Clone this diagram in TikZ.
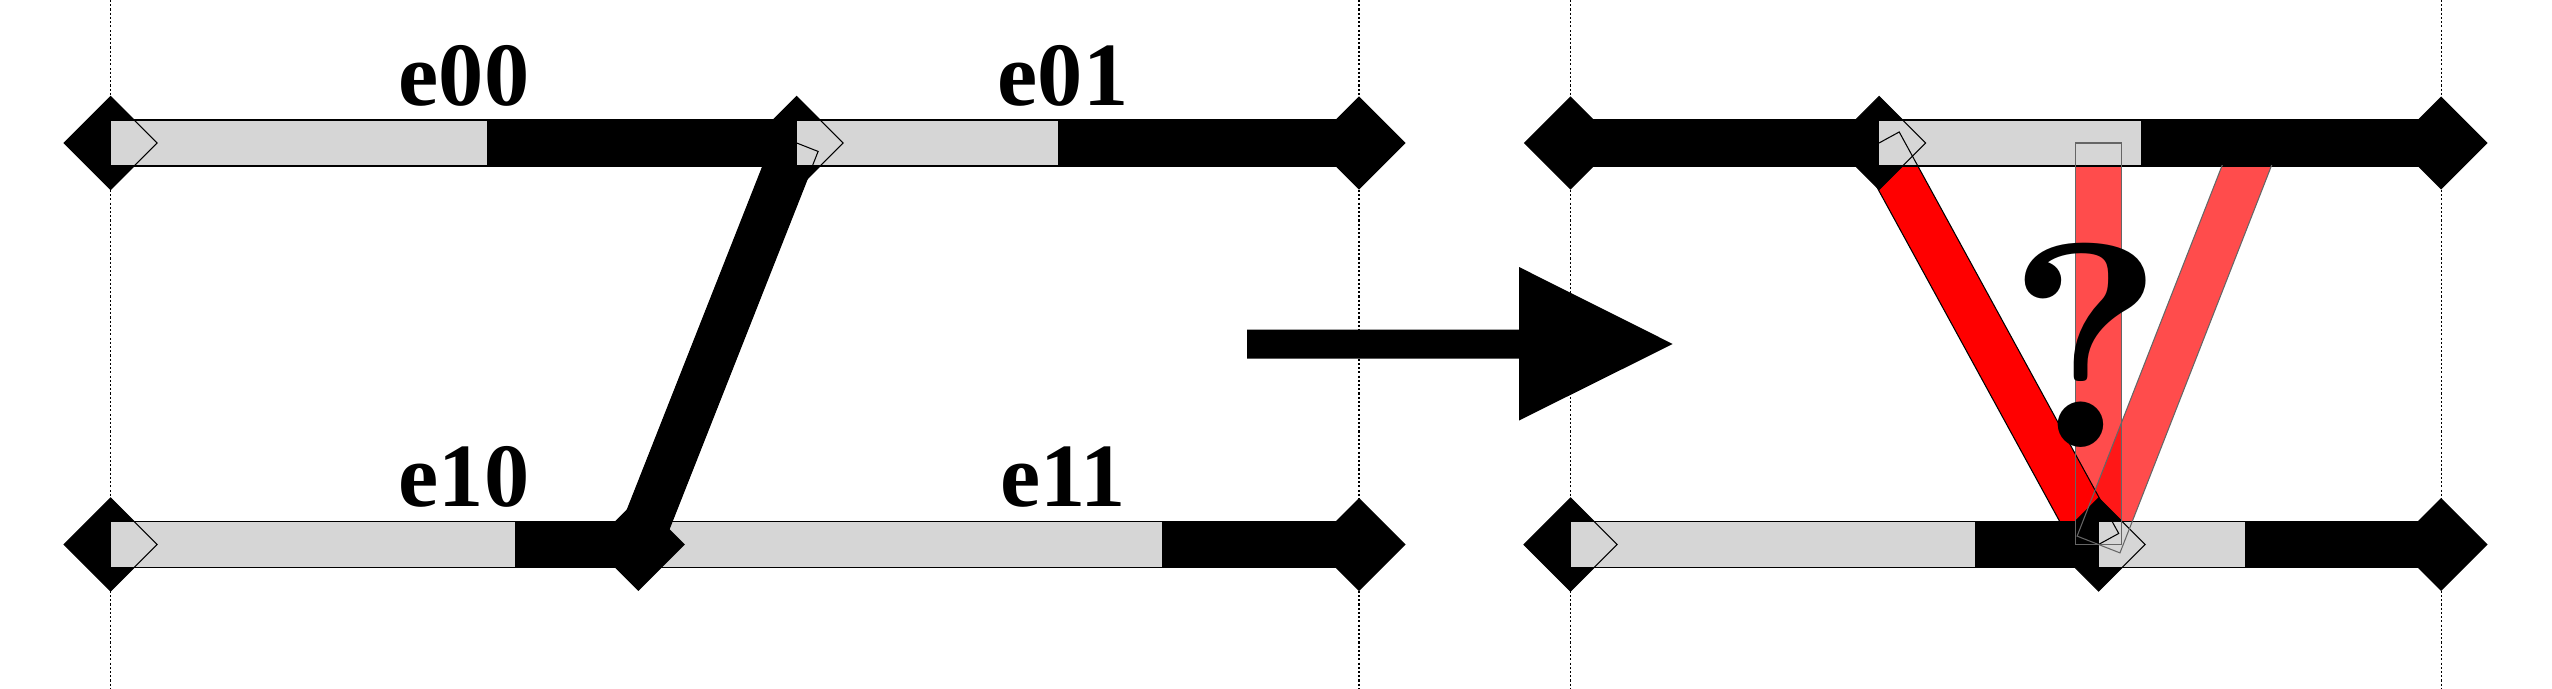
\documentclass[tikz,border=0pt]{standalone}
\usepackage{fontspec}
\setmainfont{Liberation Serif}
\newfontfamily\lmbf{lmroman10-bold.otf}
\usetikzlibrary{shapes.geometric,calc}
\definecolor{lgray}{RGB}{214,214,214}
\begin{document}
\begin{tikzpicture}[x=0.01cm,y=-0.01cm,
  dmd/.style={diamond, aspect=1, minimum width=0.93cm, minimum height=0.93cm, inner sep=0pt, outer sep=0pt},
  dmdfill/.style={dmd, fill=black},
  dmdline/.style={dmd, draw=black, line width=0.3pt},
  trk/.style={draw=black, line width=0.3pt},
  tline/.style={draw=black!60, line width=0.3pt},
  pink/.style={fill=red, fill opacity=0.7},
  lbl/.style={font=\fontsize{25.7}{30}\selectfont\bfseries, anchor=base, inner sep=0pt},
  guide/.style={line width=0.3pt, dash pattern=on 0.6pt off 0.6pt}]
\useasboundingbox (0,0) rectangle (2552,688);

% dotted guides
\foreach \gx/\gn in {110.7/ga,1359/gb,1570.5/gc,2441/gd}{
  \coordinate (\gn t) at (\gx,0);
  \coordinate (\gn b) at (\gx,688);
  \draw[guide] (\gn t) -- (\gn b);
}

% ---------------- left diagram ----------------
\coordinate (lta) at (110.7,143);
\coordinate (ltm) at (796.7,143);
\coordinate (ltb) at (1359,143);
\coordinate (lba) at (110.7,544.5);
\coordinate (lbm) at (638.3,544.5);
\coordinate (lbb) at (1359,544.5);

\coordinate (s1) at ($(ltm)!0.23cm!90:(lbm)$);
\coordinate (s2) at ($(lbm)!0.23cm!-90:(ltm)$);
\coordinate (s3) at ($(lbm)!0.23cm!90:(ltm)$);
\coordinate (s4) at ($(ltm)!0.23cm!-90:(lbm)$);
\fill (s1) -- (s2) -- (s3) -- (s4) -- cycle;

\node[dmdfill] (dla) at (lta) {};
\node[dmdfill] (dlm) at (ltm) {};
\node[dmdfill] (dlb) at (ltb) {};
\node[dmdfill] (dlc) at (lba) {};
\node[dmdfill] (dld) at (lbb) {};

% top track
\fill[lgray] (110.7,120) rectangle (487,166);
\fill (487,120) rectangle (796.7,166);
\fill[lgray] (796.7,120) rectangle (1058,166);
\fill (1058,120) rectangle (1359,166);
\draw[trk] (110.7,120) rectangle (1359,166);
% bottom track
\fill[lgray] (110.7,521.5) rectangle (515,567.5);
\fill (515,521.5) rectangle (638.3,567.5);
\fill[lgray] (638.3,521.5) rectangle (1162,567.5);
\fill (1162,521.5) rectangle (1359,567.5);
\draw[trk] (110.7,521.5) rectangle (1359,567.5);

% slanted edge on top of the bottom track
\begin{scope}
  \clip (0,300) rectangle (1400,688);
  \fill (s1) -- (s2) -- (s3) -- (s4) -- cycle;
\end{scope}

% outlines
\node[dmdline] (ola) at (lta) {};
\node[dmdline] (olm) at (ltm) {};
\node[dmdline] (olc) at (lba) {};
\draw[trk] (s1) -- (s2) -- (s3) -- (s4) -- cycle;
\node[dmdfill] (dle) at (lbm) {};

% labels
\node[lbl] (e00) at (464,106) {e00};
\node[lbl] (e01) at (1063,106) {e01};
\node[lbl] (e10) at (464,506) {e10};
\node[lbl] (e11) at (1063,506) {e11};

% ---------------- middle arrow ----------------
\fill (1247,329.5) -- (1519,329.5) -- (1519,267) -- (1672.7,344)
      -- (1519,420.5) -- (1519,358.5) -- (1247,358.5) -- cycle;

% ---------------- right diagram ----------------
\coordinate (rta) at (1570.5,143);
\coordinate (rtm) at (1879,143);
\coordinate (rtb) at (2441,143);
\coordinate (rba) at (1570.5,544.5);
\coordinate (rbm) at (2098.5,544.5);
\coordinate (rbb) at (2441,544.5);
\coordinate (rqt) at (2255.6,143);

\coordinate (r1) at ($(rtm)!0.23cm!90:(rbm)$);
\coordinate (r2) at ($(rbm)!0.23cm!-90:(rtm)$);
\coordinate (r3) at ($(rbm)!0.23cm!90:(rtm)$);
\coordinate (r4) at ($(rtm)!0.23cm!-90:(rbm)$);
\coordinate (q1) at ($(rbm)!0.23cm!90:(rqt)$);
\coordinate (q2) at ($(rqt)!0.23cm!-90:(rbm)$);
\coordinate (q3) at ($(rqt)!0.23cm!90:(rbm)$);
\coordinate (q4) at ($(rbm)!0.23cm!-90:(rqt)$);

\fill[red] (r1) -- (r2) -- (r3) -- (r4) -- cycle;
\fill[pink] (2075.5,143) rectangle (2121.5,544.5);
\fill[pink] (q1) -- (q2) -- (q3) -- (q4) -- cycle;

\node[dmdfill] (dra) at (rta) {};
\node[dmdfill] (drm) at (rtm) {};
\node[dmdfill] (drb) at (rtb) {};
\node[dmdfill] (drc) at (rba) {};
\node[dmdfill] (drd) at (rbm) {};
\node[dmdfill] (dre) at (rbb) {};

% top track
\fill (1570.5,120) rectangle (1879,166);
\fill[lgray] (1879,120) rectangle (2140.7,166);
\fill (2140.7,120) rectangle (2441,166);
\draw[trk] (1570.5,120) rectangle (2441,166);
% bottom track
\fill[lgray] (1570.5,521.5) rectangle (1975,567.5);
\fill (1975,521.5) rectangle (2098.5,567.5);
\fill[lgray] (2098.5,521.5) rectangle (2244.7,567.5);
\fill (2244.7,521.5) rectangle (2441,567.5);
\draw[trk] (1570.5,521.5) rectangle (2441,567.5);

% outlines
\node[dmdline] (orm) at (rtm) {};
\node[dmdline] (orc) at (rba) {};
\node[dmdline] (ord) at (rbm) {};
\draw[trk] (r1) -- (r2) -- (r3) -- (r4) -- cycle;
\draw[tline] (2075.5,143) rectangle (2121.5,544.5);
\begin{scope}
  \clip (1500,166) rectangle (2552,688);
  \draw[tline] (q1) -- (q2) -- (q3) -- (q4) -- cycle;
\end{scope}

\node[font=\lmbf\fontsize{83}{90}\selectfont, anchor=base, inner sep=0pt] (qm) at (2086,447) {?};
\end{tikzpicture}
\end{document}
